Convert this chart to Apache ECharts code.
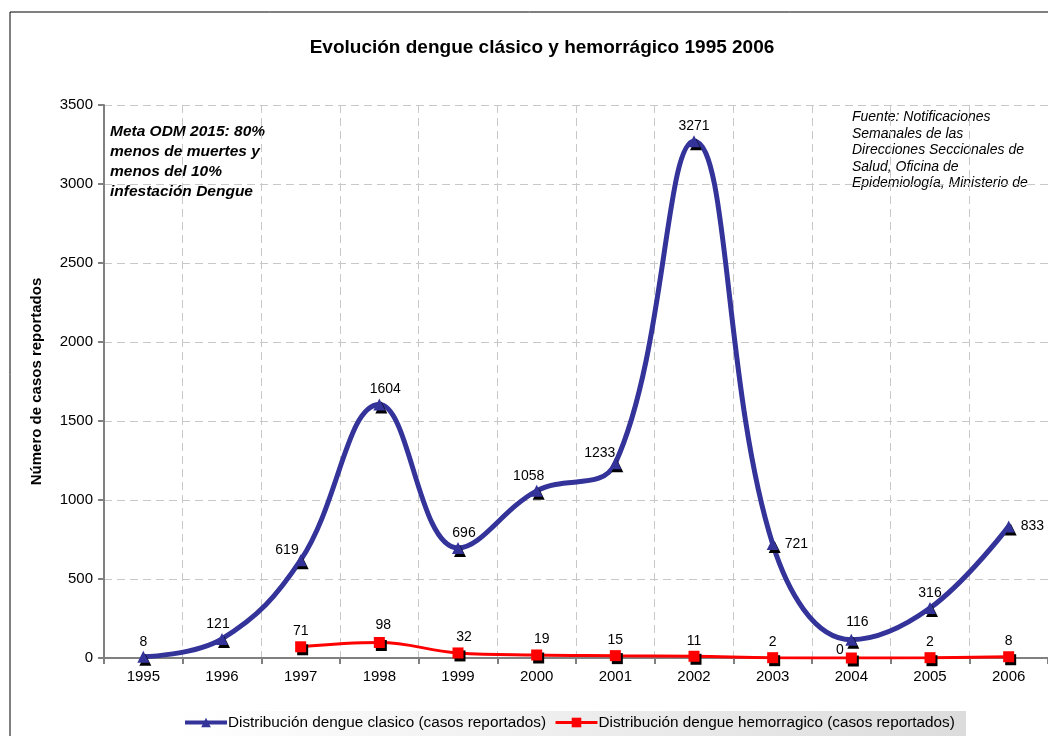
<!DOCTYPE html>
<html>
<head>
<meta charset="utf-8">
<script src="https://cdn.jsdelivr.net/npm/echarts@6/dist/echarts.min.js"></script>
<style>
  html, body { margin: 0; padding: 0; background: #fff; }
  #chart { width: 1048px; height: 736px; }
</style>
</head>
<body>
<div id="chart"></div>
<script>
const years = ['1995', '1996', '1997', '1998', '1999', '2000', '2001', '2002', '2003', '2004', '2005', '2006']
const clasico = [8, 121, 619, 1604, 696, 1058, 1233, 3271, 721, 116, 316, 833]
const hemorragico = [null, null, 71, 98, 32, 19, 15, 11, 2, 0, 2, 8]
// where each value label sits
const clasicoLabelPos = ['top', 'top', 'left', 'top', 'top', 'top', 'left', 'top', 'right', 'top', 'top', 'right']
const clasicoLabelShift = [[0, 0], [-4, 0], [6, -10], [6, 0], [6, 0], [-8, 0], [8, -10], [0, 0], [0, 0], [6, -3], [0, 0], [0, 0]]
const hemoLabelPos = ['top', 'top', 'top', 'top', 'top', 'top', 'top', 'top', 'top', 'left', 'top', 'top']
const hemoLabelShift = [[0, 0], [0, 0], [0, 0], [4, -2], [6, 0], [5, 0], [0, 0], [0, 0], [0, 0], [0, -8], [0, 0], [0, 0]]

const myChart = echarts.init(document.getElementById('chart'))

const shadow = { shadowColor: '#000', shadowOffsetX: 2, shadowOffsetY: 3, shadowBlur: 0 }
const FONT = 'Liberation Sans, Arial, sans-serif'

function labelFor(pos, shift) {
    const l = { position: pos, offset: shift }
    if (pos === 'left') l.distance = 2
    if (pos === 'right') l.distance = 6
    return l
}

myChart.setOption({
    animation: false,
    textStyle: { fontFamily: FONT },
    title: {
        text: 'Evolución dengue clásico y hemorrágico 1995 2006',
        left: 537,
        top: 33,
        textAlign: 'center',
        textStyle: { fontSize: 19, fontWeight: 'bold', color: '#000' }
    },
    graphic: [
        // outer chart border
        { type: 'rect', shape: { x: 10, y: 12, width: 1060, height: 760 }, style: { fill: 'none', stroke: '#000', lineWidth: 1 }, silent: true },
        // legend box
        { type: 'rect', shape: { x: 176, y: 711, width: 790, height: 26 },
          style: { fill: new echarts.graphic.LinearGradient(0, 0, 1, 0, [{ offset: 0, color: '#ffffff' }, { offset: 1, color: '#dcdcdc' }]) }, z: 0, silent: true },
        { type: 'text', left: 110, top: 122,
          style: { text: 'Meta ODM 2015: 80%\nmenos de muertes y\nmenos del 10%\ninfestación Dengue', font: 'italic bold 15.5px ' + FONT, lineHeight: 20, fill: '#000' } },
        { type: 'text', left: 852, top: 109,
          style: { text: 'Fuente: Notificaciones\nSemanales de las\nDirecciones Seccionales de\nSalud, Oficina de\nEpidemiología, Ministerio de', font: 'italic 14px ' + FONT, lineHeight: 16.5, fill: '#000' } }
    ],
    legend: {
        bottom: 1,
        left: 178,
        itemGap: 8,
        itemWidth: 42,
        itemHeight: 12,
        textStyle: { fontSize: 15.3, color: '#000', padding: [0, 0, 0, -4] },
        data: [
            { name: 'Distribución dengue clasico (casos reportados)', lineStyle: { width: 4 } },
            { name: 'Distribución dengue hemorragico (casos reportados)', lineStyle: { width: 3 } }
        ]
    },
    grid: { left: 104, top: 105, bottom: 78, width: 951 },
    xAxis: {
        type: 'category',
        data: years,
        boundaryGap: true,
        axisLine: { lineStyle: { color: '#808080', width: 2 } },
        axisTick: { show: true, length: 6, lineStyle: { color: '#808080', width: 2 } },
        axisLabel: { color: '#000', fontSize: 15, margin: 11 },
        splitLine: { show: true, lineStyle: { color: '#c8c8c8', type: [8, 5] } }
    },
    yAxis: {
        type: 'value',
        min: 0,
        max: 3500,
        interval: 500,
        name: 'Número de casos reportados',
        nameLocation: 'middle',
        nameGap: 60,
        nameTextStyle: { fontSize: 15, fontWeight: 'bold', color: '#000' },
        axisLine: { show: true, lineStyle: { color: '#808080', width: 2 } },
        axisTick: { show: true, length: 6, lineStyle: { color: '#808080', width: 2 } },
        axisLabel: { color: '#000', fontSize: 15, margin: 11, formatter: v => String(v) },
        splitLine: { lineStyle: { color: '#c8c8c8', type: [8, 5] } }
    },
    series: [
        {
            name: 'Distribución dengue clasico (casos reportados)',
            type: 'line',
            smooth: 0.4,
            data: clasico.map((v, i) => ({ value: v, label: labelFor(clasicoLabelPos[i], clasicoLabelShift[i]) })),
            symbol: 'triangle',
            symbolSize: 12,
            lineStyle: { color: '#333399', width: 5 },
            itemStyle: Object.assign({ color: '#333399', borderWidth: 0 }, shadow),
            label: { show: true, color: '#000', fontSize: 14, distance: 2 },
            z: 3
        },
        {
            name: 'Distribución dengue hemorragico (casos reportados)',
            type: 'line',
            smooth: 0.4,
            data: hemorragico.map((v, i) => ({ value: v, label: labelFor(hemoLabelPos[i], hemoLabelShift[i]) })),
            symbol: 'rect',
            symbolSize: 11,
            lineStyle: { color: '#ff0000', width: 3 },
            itemStyle: Object.assign({ color: '#ff0000', borderWidth: 0 }, shadow),
            label: { show: true, color: '#000', fontSize: 14, distance: 3 },
            z: 4
        }
    ]
})
window.addEventListener('resize', () => {
    myChart.resize()
})
</script>
</body>
</html>
